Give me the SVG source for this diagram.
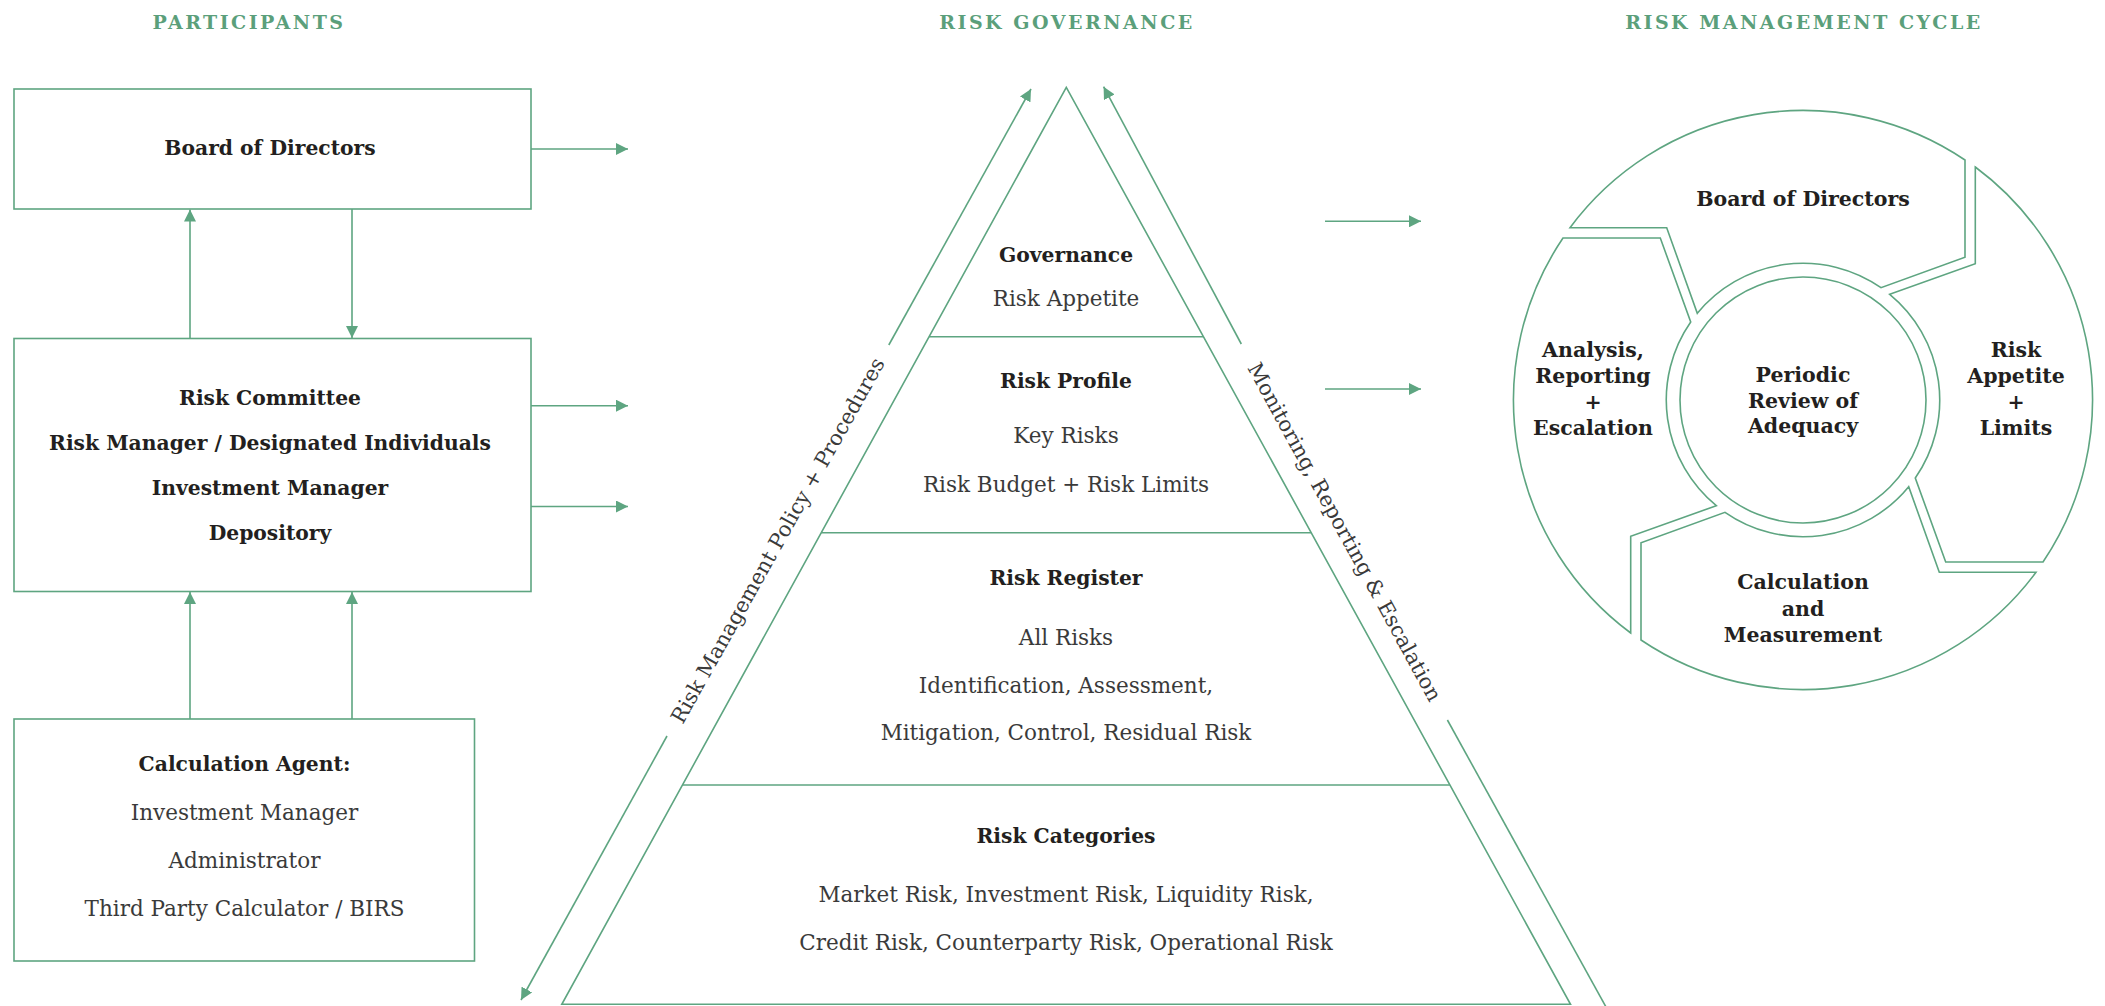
<svg xmlns="http://www.w3.org/2000/svg" width="2105" height="1006" viewBox="0 0 2105 1006">
<style>
.ln{fill:none;stroke:#5ea581;stroke-width:1.6}
.hd{font-family:'DejaVu Serif','Liberation Serif',serif;font-weight:bold;font-size:19px;letter-spacing:2.5px;fill:#5b9f7b;text-anchor:middle}
.b{font-family:'DejaVu Serif','Liberation Serif',serif;font-weight:bold;font-size:20.3px;fill:#231f20;text-anchor:middle}
.r{font-family:'DejaVu Serif','Liberation Serif',serif;font-size:21.5px;fill:#3a3a3a;text-anchor:middle}
.c{font-family:'DejaVu Serif','Liberation Serif',serif;font-weight:bold;font-size:20.5px;fill:#231f20;text-anchor:middle}
.rot{font-family:'DejaVu Serif','Liberation Serif',serif;font-size:21px;fill:#3a3a3a;text-anchor:middle}
</style>
<defs>
<marker id="ah" viewBox="0 0 12 12" refX="12" refY="6" markerWidth="12" markerHeight="12" markerUnits="userSpaceOnUse" orient="auto-start-reverse">
<path d="M0,0 L12,6 L0,12 Z" fill="#5ea581"/>
</marker>
<path id="seg" d="M1570,227.7 A290,290 0 0 1 1965,160 L1965,257.3 L1881,287.7 A136.7,136.7 0 0 0 1697.3,313.3 L1666.7,227.7 Z"/>
</defs>
<rect width="2105" height="1006" fill="#ffffff"/>

<g id="headers">
<text class="hd" x="249" y="29">PARTICIPANTS</text>
<text class="hd" x="1067" y="29">RISK GOVERNANCE</text>
<text class="hd" x="1804" y="29">RISK MANAGEMENT CYCLE</text>
</g>

<g id="board">
<rect class="ln" x="14" y="89" width="517" height="120"/>
<text class="b" x="270" y="155">Board of Directors</text>
</g>

<g id="committee">
<rect class="ln" x="14" y="338.5" width="517" height="253"/>
<text class="b" x="270" y="405">Risk Committee</text>
<text class="b" x="270" y="449.5">Risk Manager / Designated Individuals</text>
<text class="b" x="270" y="494.5">Investment Manager</text>
<text class="b" x="270" y="539.5">Depository</text>
</g>

<g id="calc-agent">
<rect class="ln" x="14" y="719" width="460.5" height="242"/>
<text class="b" x="244.5" y="771">Calculation Agent:</text>
<text class="r" x="244.5" y="820">Investment Manager</text>
<text class="r" x="244.5" y="867.5">Administrator</text>
<text class="r" x="244.5" y="916">Third Party Calculator / BIRS</text>
</g>

<g id="pyramid">
<polygon class="ln" points="1066.3,87.3 561.8,1004.3 1570.5,1004.3"/>
<line class="ln" x1="929.1" y1="336.7" x2="1203.4" y2="336.7"/>
<line class="ln" x1="821.2" y1="532.7" x2="1311.1" y2="532.7"/>
<line class="ln" x1="682.4" y1="785" x2="1449.8" y2="785"/>
</g>
<g id="layer-governance">
<text class="b" x="1066" y="261.7">Governance</text>
<text class="r" x="1066" y="306">Risk Appetite</text>
</g>
<g id="layer-profile">
<text class="b" x="1066" y="388.3">Risk Profile</text>
<text class="r" x="1066" y="443.3">Key Risks</text>
<text class="r" x="1066" y="491.7">Risk Budget + Risk Limits</text>
</g>
<g id="layer-register">
<text class="b" x="1066" y="585">Risk Register</text>
<text class="r" x="1066" y="645">All Risks</text>
<text class="r" x="1066" y="693.3">Identification, Assessment,</text>
<text class="r" x="1066" y="740">Mitigation, Control, Residual Risk</text>
</g>
<g id="layer-categories">
<text class="b" x="1066" y="843.3">Risk Categories</text>
<text class="r" x="1066" y="901.7">Market Risk, Investment Risk, Liquidity Risk,</text>
<text class="r" x="1066" y="950">Credit Risk, Counterparty Risk, Operational Risk</text>
</g>

<g id="cycle-board">
<use href="#seg" class="ln"/>
<text class="c" x="1803" y="206">Board of Directors</text>
</g>
<g id="cycle-appetite">
<use href="#seg" class="ln" transform="rotate(90 1803 400)"/>
<text class="c" x="2016" y="357">Risk</text>
<text class="c" x="2016" y="383">Appetite</text>
<text class="c" x="2016" y="409">+</text>
<text class="c" x="2016" y="435">Limits</text>
</g>
<g id="cycle-calculation">
<use href="#seg" class="ln" transform="rotate(180 1803 400)"/>
<text class="c" x="1803" y="589.3">Calculation</text>
<text class="c" x="1803" y="615.7">and</text>
<text class="c" x="1803" y="641.7">Measurement</text>
</g>
<g id="cycle-analysis">
<use href="#seg" class="ln" transform="rotate(270 1803 400)"/>
<text class="c" x="1593" y="357">Analysis,</text>
<text class="c" x="1593" y="383">Reporting</text>
<text class="c" x="1593" y="409">+</text>
<text class="c" x="1593" y="435">Escalation</text>
</g>
<g id="cycle-review">
<circle class="ln" cx="1803" cy="400" r="123"/>
<text class="c" x="1803" y="381.7">Periodic</text>
<text class="c" x="1803" y="407.5">Review of</text>
<text class="c" x="1803" y="433.3">Adequacy</text>
</g>

<g id="connectors">
<line class="ln" x1="531" y1="149" x2="628" y2="149" marker-end="url(#ah)"/>
<line class="ln" x1="531" y1="405.7" x2="628" y2="405.7" marker-end="url(#ah)"/>
<line class="ln" x1="531" y1="506.5" x2="628" y2="506.5" marker-end="url(#ah)"/>
<line class="ln" x1="190" y1="338.5" x2="190" y2="209.5" marker-end="url(#ah)"/>
<line class="ln" x1="352" y1="209" x2="352" y2="338" marker-end="url(#ah)"/>
<line class="ln" x1="190" y1="719" x2="190" y2="592" marker-end="url(#ah)"/>
<line class="ln" x1="352" y1="719" x2="352" y2="592" marker-end="url(#ah)"/>
<line class="ln" x1="1325" y1="221.3" x2="1421" y2="221.3" marker-end="url(#ah)"/>
<line class="ln" x1="1325" y1="389" x2="1421" y2="389" marker-end="url(#ah)"/>
<line class="ln" x1="888.8" y1="345" x2="1031" y2="89" marker-end="url(#ah)"/>
<line class="ln" x1="667" y1="736" x2="521" y2="1000" marker-end="url(#ah)"/>
<line class="ln" x1="1241.3" y1="344" x2="1103.6" y2="86.7" marker-end="url(#ah)"/>
<line class="ln" x1="1447.4" y1="720" x2="1606" y2="1007"/>
<text class="rot" transform="translate(778 540.5) rotate(-60.77)" x="0" y="7">Risk Management Policy + Procedures</text>
<text class="rot" transform="translate(1344.5 532) rotate(61.39)" x="0" y="7">Monitoring, Reporting &amp; Escalation</text>
</g>
</svg>
